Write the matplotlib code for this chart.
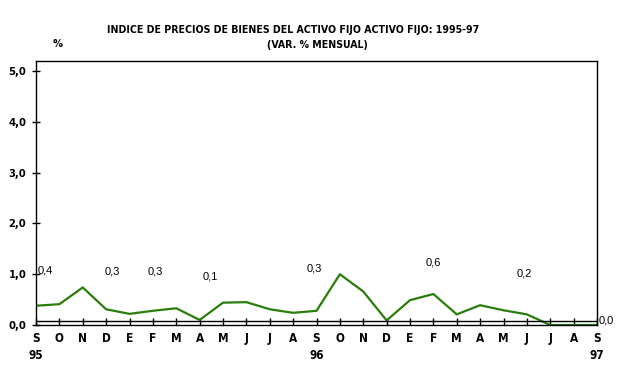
import matplotlib
matplotlib.use("Agg")
import matplotlib.pyplot as plt

# monthly % change, Sep 1995 .. Sep 1997
months = ["S", "O", "N", "D", "E", "F", "M", "A", "M", "J", "J", "A",
          "S", "O", "N", "D", "E", "F", "M", "A", "M", "J", "J", "A", "S"]
values = [0.38, 0.41, 0.74, 0.31, 0.22, 0.28, 0.33, 0.10, 0.44, 0.45, 0.31, 0.24,
          0.28, 1.00, 0.66, 0.09, 0.49, 0.61, 0.21, 0.39, 0.29, 0.21, 0.0, 0.0, 0.0]
years = ["95", "96", "97"]
year_pos = [0, 12, 24]

# annotation labels (text, x index, y value)
note_text = ["0,4", "0,3", "0,3", "0,1", "0,3", "0,6", "0,2", "0,0"]
note_x = [0.05, 3.25, 5.1, 7.45, 11.9, 17.0, 20.9, 24.05]
note_y = [0.98, 0.95, 0.95, 0.86, 1.02, 1.14, 0.92, 0.08]
note_ha = ["left", "center", "center", "center", "center", "center", "center", "left"]

yticks = [0, 1, 2, 3, 4, 5]
ylabels = ["0,0", "1,0", "2,0", "3,0", "4,0", "5,0"]

BOLD = dict(family=["DejaVu Sans"], fontweight="bold", fontstretch="condensed")
REG = dict(family=["Liberation Sans", "DejaVu Sans"])

fig = plt.figure(figsize=(6.36, 3.69), dpi=100)
ax = fig.add_axes([0.0566, 0.1192, 0.8821, 0.7155])

ax.plot(range(len(values)), values, color="#2a7d0a", linewidth=1.6)
ax.axhline(0.08, color="black", linewidth=1.0)

ax.set_xlim(0, 24)
ax.set_ylim(0, 5.2)

ax.set_yticks(yticks)
ax.set_yticklabels(ylabels, fontsize=8, **BOLD)
ax.tick_params(axis="y", direction="inout", length=6, width=1, pad=4)

ax.set_xticks(range(len(months)))
ax.set_xticklabels(months, fontsize=8.5, **BOLD)
ax.tick_params(axis="x", direction="in", length=5, width=1, pad=5)

for sp in ax.spines.values():
    sp.set_linewidth(1.0)

for t, x, y, ha in zip(note_text, note_x, note_y, note_ha):
    ax.text(x, y, t, ha=ha, va="bottom" if t != "0,0" else "center",
            fontsize=8, **REG)

for yr, x in zip(years, year_pos):
    ax.text(x, -0.6, yr, ha="center", va="center", fontsize=8.5, **BOLD)

fig.text(0.461, 0.918, "INDICE DE PRECIOS DE BIENES DEL ACTIVO FIJO ACTIVO FIJO: 1995-97",
         ha="center", va="center", fontsize=7.6, **BOLD)
fig.text(0.499, 0.878, "(VAR. % MENSUAL)", ha="center", va="center",
         fontsize=7.6, **BOLD)
fig.text(0.09, 0.881, "%", ha="center", va="center", fontsize=8, **BOLD)

fig.savefig("out.png", dpi=100)
